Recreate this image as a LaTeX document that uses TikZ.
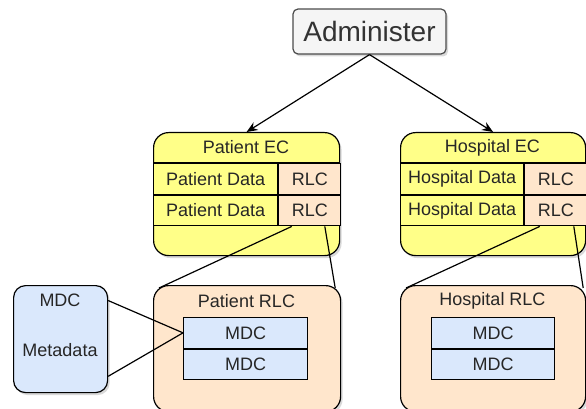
\documentclass[tikz,border=0pt]{standalone}
\usepackage{fontspec}
\setmainfont{Liberation Sans}
\usetikzlibrary{arrows.meta, positioning, shadows, calc}
\definecolor{ecfill}{HTML}{FFFF88}
\definecolor{rlcfill}{HTML}{FFE6CC}
\definecolor{mdcfill}{HTML}{DAE8FC}
\definecolor{admfill}{HTML}{F5F5F5}

\begin{document}
\begin{tikzpicture}[
    x = 1pt, y = -1pt,
    > = {Stealth[length=11pt, width=9pt]},
    shade/.style  = {drop shadow={shadow xshift=2pt, shadow yshift=-2.5pt, opacity=0.3}},
    txt/.style    = {font=\fontsize{18}{21}\selectfont, text=black!85},
    container/.style = {draw, line width=1.2pt, rounded corners=15pt, shade,
                    anchor=north west, inner sep=0pt},
    ecbox/.style  = {container, fill=ecfill},
    rlcbox/.style = {container, fill=rlcfill},
    cell/.style   = {txt, draw, line width=1.2pt, inner sep=0pt, anchor=north west,
                    minimum height=30.5pt},
    datacell/.style = {cell, fill=ecfill},
    rlccell/.style  = {cell, fill=rlcfill, minimum width=62pt},
    mdccell/.style  = {cell, fill=mdcfill},
    flow/.style   = {->, line width=1.2pt},
    link/.style   = {line width=1.2pt},
]
\useasboundingbox (0,0) rectangle (586,409);

% --------------------------------------------- top -----------------------------------------------
\node[draw=black!70, line width=1.2pt, fill=admfill, rounded corners=5pt, shade,
      minimum width=153pt, minimum height=45pt, inner sep=0pt,
      font=\fontsize{28}{32}\selectfont, text=black!80] (adm) at (369.5,31.5) {Administer};

% ------------------------------------------ patient EC -------------------------------------------
\node[ecbox, minimum width=186pt, minimum height=123pt] (pec) at (153,132) {};
\node[txt] (pech) at (246,147.5) {Patient EC};
\draw[line width=1.2pt] (pec.west |- 0,163) -- (pec.east |- 0,163);
\node[datacell, minimum width=124pt] (pd1) at (153,163) {Patient Data};
\node[rlccell] (pr1) at (pd1.north east) {RLC};
\node[datacell, minimum width=124pt] (pd2) at (pd1.south west) {Patient Data};
\node[rlccell] (pr2) at (pd2.north east) {RLC};

% ------------------------------------------ hospital EC ------------------------------------------
\node[ecbox, minimum width=185pt, minimum height=123pt] (hec) at (400,132) {};
\node[txt] (hech) at (492.5,147.5) {Hospital EC};
\draw[line width=1.2pt] (hec.west |- 0,163) -- (hec.east |- 0,163);
\node[datacell, minimum width=123pt] (hd1) at (400,163) {Hospital Data};
\node[rlccell] (hr1) at (hd1.north east) {RLC};
\node[datacell, minimum width=123pt] (hd2) at (hd1.south west) {Hospital Data};
\node[rlccell] (hr2) at (hd2.north east) {RLC};

% ------------------------------------------ RLC details ------------------------------------------
\node[rlcbox, minimum width=187pt, minimum height=126pt] (prlc) at (153,285) {};
\node[txt] (prlch) at (246.5,301) {Patient RLC};
\node[mdccell, minimum width=124pt] (pm1) at (183,317) {MDC};
\node[mdccell, minimum width=124pt] (pm2) at (pm1.south west) {MDC};

\node[rlcbox, minimum width=185pt, minimum height=126pt] (hrlc) at (400,285) {};
\node[txt] (hrlch) at (492.5,301) {Hospital RLC};
\node[mdccell, minimum width=123pt] (hm1) at (431,317) {MDC};
\node[mdccell, minimum width=123pt] (hm2) at (hm1.south west) {MDC};

% ------------------------------------------- metadata --------------------------------------------
\node[draw, line width=1.2pt, fill=mdcfill, rounded corners=12pt, shade, anchor=north west,
      minimum width=94pt, minimum height=107pt, inner sep=0pt] (meta) at (13,285) {};
\node[txt] (metah) at (60,300) {MDC};
\node[txt] (metat) at (60,350) {Metadata};

% -------------------------------------------- arrows ---------------------------------------------
\draw[flow] (adm.south) -- (pec.north);
\draw[flow] (adm.south) -- (hec.north);

\draw[link] ($(pr2.south)+(-18,0)$) -- ($(prlc.north west)+(6,3)$);
\draw[link] ($(pr2.south)+(15,0)$)  -- ($(prlc.north east)+(-6,3)$);
\draw[link] ($(hr2.south)+(-16,0)$) -- ($(hrlc.north west)+(6,3)$);
\draw[link] ($(hr2.south)+(18,0)$)  -- ($(hrlc.north east)+(-3,3)$);

\draw[link] (meta.39) -- (pm1.west);
\draw[link] (meta.-38) -- (pm1.west);

\end{tikzpicture}
\end{document}
